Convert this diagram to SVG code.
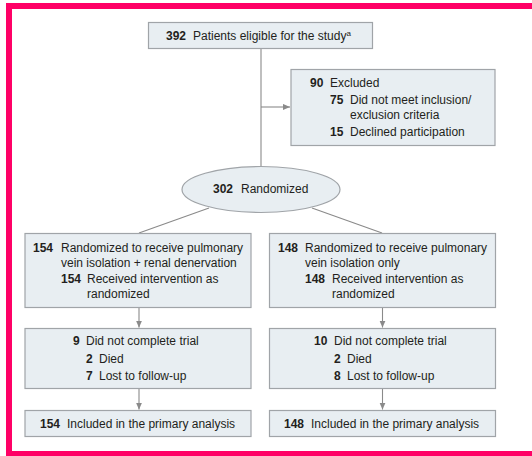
<svg xmlns="http://www.w3.org/2000/svg" width="532" height="456" viewBox="0 0 532 456">
  <defs>
    <marker id="arrow" viewBox="0 0 8 8" refX="8" refY="4" markerWidth="7" markerHeight="7" markerUnits="userSpaceOnUse" orient="auto">
      <path d="M0,0.5 L8,4 L0,7.5 z" fill="#8a8a8a"/>
    </marker>
    <style>
      .box { fill: #e8eef2; stroke: #a0a4a8; stroke-width: 1.2; }
      .link { fill: none; stroke: #8a8a8a; stroke-width: 1.1; }
      text { font-family: "Liberation Sans Narrow", "Liberation Sans", Arial, sans-serif; font-size: 12px; fill: #231f20; }
      .n { font-weight: bold; }
    </style>
  </defs>

  <rect x="9" y="6" width="540" height="448" fill="#ffffff" stroke="#ff0066" stroke-width="6"/>

  <g id="connectors">
    <line class="link" x1="261" y1="48" x2="261" y2="167"/>
    <line class="link" x1="261" y1="107" x2="290" y2="107" marker-end="url(#arrow)"/>
    <line class="link" x1="209" y1="208" x2="139" y2="233"/>
    <line class="link" x1="312" y1="208" x2="382" y2="233"/>
    <line class="link" x1="139" y1="307" x2="139" y2="327.5" marker-end="url(#arrow)"/>
    <line class="link" x1="382.5" y1="307" x2="382.5" y2="327.5" marker-end="url(#arrow)"/>
    <line class="link" x1="139" y1="388" x2="139" y2="409.5" marker-end="url(#arrow)"/>
    <line class="link" x1="382.5" y1="388" x2="382.5" y2="409.5" marker-end="url(#arrow)"/>
  </g>

  <g id="eligible">
    <rect class="box" x="148.5" y="22.5" width="224" height="26"/>
    <text class="n" x="166" y="40">392</text>
    <text x="193" y="40">Patients eligible for the study<tspan font-size="8" dy="-4">a</tspan></text>
  </g>

  <g id="excluded">
    <rect class="box" x="291" y="69.5" width="204" height="76"/>
    <text class="n" x="310" y="87">90</text>
    <text x="330" y="87">Excluded</text>
    <text class="n" x="330" y="104">75</text>
    <text x="350" y="104">Did not meet inclusion/</text>
    <text x="350" y="119">exclusion criteria</text>
    <text class="n" x="330" y="135.5">15</text>
    <text x="350" y="135.5">Declined participation</text>
  </g>

  <g id="randomized">
    <ellipse cx="261" cy="189.5" rx="79" ry="23" fill="#e8eef2" stroke="#a0a4a8" stroke-width="1.2"/>
    <text class="n" x="213" y="193">302</text>
    <text x="241" y="193">Randomized</text>
  </g>

  <g id="arm-pvi-rdn">
    <rect class="box" x="25" y="233.5" width="226" height="74"/>
    <text class="n" x="33" y="252">154</text>
    <text x="61" y="252">Randomized to receive pulmonary</text>
    <text x="61" y="266.5">vein isolation + renal denervation</text>
    <text class="n" x="61" y="282.5">154</text>
    <text x="87" y="282.5">Received intervention as</text>
    <text x="87" y="297.5">randomized</text>
  </g>

  <g id="arm-pvi">
    <rect class="box" x="269.5" y="233.5" width="226" height="74"/>
    <text class="n" x="278" y="252">148</text>
    <text x="305" y="252">Randomized to receive pulmonary</text>
    <text x="305" y="266.5">vein isolation only</text>
    <text class="n" x="305" y="282.5">148</text>
    <text x="332" y="282.5">Received intervention as</text>
    <text x="332" y="297.5">randomized</text>
  </g>

  <g id="incomplete-pvi-rdn">
    <rect class="box" x="25" y="328.5" width="226" height="60"/>
    <text class="n" x="73" y="345">9</text>
    <text x="86" y="345">Did not complete trial</text>
    <text class="n" x="86" y="362.5">2</text>
    <text x="99" y="362.5">Died</text>
    <text class="n" x="86" y="380">7</text>
    <text x="99" y="380">Lost to follow-up</text>
  </g>

  <g id="incomplete-pvi">
    <rect class="box" x="269.5" y="328.5" width="226" height="60"/>
    <text class="n" x="314" y="345">10</text>
    <text x="334" y="345">Did not complete trial</text>
    <text class="n" x="334" y="362.5">2</text>
    <text x="347" y="362.5">Died</text>
    <text class="n" x="334" y="380">8</text>
    <text x="347" y="380">Lost to follow-up</text>
  </g>

  <g id="analysis-pvi-rdn">
    <rect class="box" x="25" y="410.5" width="226" height="26"/>
    <text class="n" x="40" y="427.5">154</text>
    <text x="67" y="427.5">Included in the primary analysis</text>
  </g>

  <g id="analysis-pvi">
    <rect class="box" x="269.5" y="410.5" width="226" height="26"/>
    <text class="n" x="284" y="427.5">148</text>
    <text x="311" y="427.5">Included in the primary analysis</text>
  </g>
</svg>
